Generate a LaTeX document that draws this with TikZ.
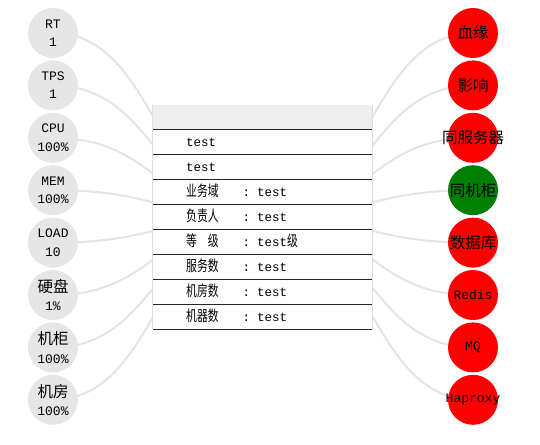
\documentclass[tikz,border=0pt]{standalone}
\usepackage{fontspec}
\setmainfont{Liberation Mono}
\newfontfamily\cjk{Noto Sans CJK SC}
\newfontfamily\cjknarrow[FakeStretch=0.72]{Noto Sans CJK SC}
\usetikzlibrary{backgrounds}

\definecolor{metricgray}{RGB}{230,230,230}
\definecolor{linkgray}{RGB}{228,228,228}
\definecolor{headgray}{RGB}{238,238,238}
\definecolor{bordergray}{RGB}{221,221,221}
\definecolor{alarmred}{RGB}{255,0,0}
\definecolor{okgreen}{RGB}{0,128,0}

\newcommand{\zhs}[1]{{\cjknarrow\fontsize{15}{16}\selectfont #1}}
\newcommand{\zhb}[1]{{\cjk\fontsize{15.5}{18}\selectfont #1}}
\newcommand{\kv}[2]{\makebox[56.5pt][l]{\zhs{#1}}\makebox[14.5pt][l]{:}#2}

\begin{document}
\begin{tikzpicture}[
	x=1pt, y=-1pt,
	metric/.style={circle, fill=metricgray, minimum size=50pt, inner sep=0pt, align=center, font=\fontsize{13}{18.5}\selectfont},
	relation/.style={circle, fill=alarmred, minimum size=50pt, inner sep=0pt, align=center, font=\fontsize{13}{18}\selectfont},
	link/.style={draw=linkgray, line width=2pt},
	cell/.style={anchor=base west, inner sep=0pt, font=\fontsize{12.5}{15}\selectfont},
	rowline/.style={draw=black!85, line width=1pt}
	]
	
	\useasboundingbox (0,0) rectangle (540,444);
	
	% ======================
	% Tabelle (Mitte)
	% ======================
	\node[fill=white, minimum width=219pt, minimum height=224pt, inner sep=0pt] (tbl) at (262.5,217) {};
	\fill[headgray] (tbl.north west) rectangle ([yshift=-24pt]tbl.north east);
	\draw[bordergray, line width=1pt] (tbl.north west) -- (tbl.south west)
		(tbl.north east) -- (tbl.south east);
	
	\foreach \k in {0,...,8}
		\draw[rowline] (153,{129+25*\k}) -- (372,{129+25*\k});
	
	\foreach \txt [count=\k from 0] in {test, test, \kv{业务域}{test}, \kv{负责人}{test},
		\kv{等　级}{test\zhs{级}}, \kv{服务数}{test}, \kv{机房数}{test}, \kv{机器数}{test}}
		\node[cell] (row\k) at (186,{146.5+25*\k}) {\txt};
	
	% ======================
	% Kennzahlen (links)
	% ======================
	\foreach \txt [count=\i] in {{RT\\1}, {TPS\\1}, {CPU\\100\%}, {MEM\\100\%}, {LOAD\\10},
		{\zhb{硬盘}\\1\%}, {\zhb{机柜}\\100\%}, {\zhb{机房}\\100\%}}
		\node[metric] (m\i) at (53,{33+52.4*(\i-1)}) {\txt};
	
	% ======================
	% Beziehungen (rechts)
	% ======================
	\foreach \txt/\col [count=\i] in {{\zhb{血缘}}/alarmred, {\zhb{影响}}/alarmred,
		{\zhb{同服务器}}/alarmred, {\zhb{同机柜}}/okgreen, {\zhb{数据库}}/alarmred,
		Redis/alarmred, MQ/alarmred, Haproxy/alarmred}
		\node[relation, fill=\col] (r\i) at (473,{33+52.4*(\i-1)}) {\makebox[0pt]{\raisebox{-4pt}{\txt}}};
	
	% Verbindungen hinter Tabelle und Kreisen
	\begin{scope}[on background layer]
		\foreach \i in {1,...,8} {
			\pgfmathsetmacro\yy{33+52.4*(\i-1)}
			\draw[link] (m\i.center) .. controls (158,\yy) and (158,217) .. (tbl.center);
			\draw[link] (tbl.center) .. controls (368,217) and (368,\yy) .. (r\i.center);
		}
	\end{scope}
	
\end{tikzpicture}
\end{document}
